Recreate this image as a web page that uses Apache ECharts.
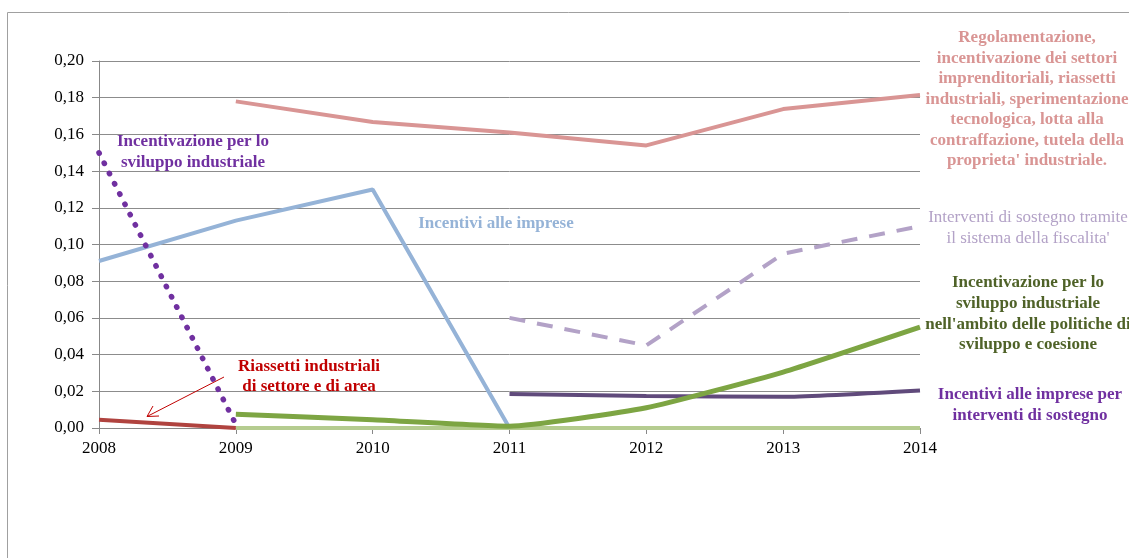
<!DOCTYPE html>
<html><head><meta charset="utf-8">
<script src="https://cdn.jsdelivr.net/npm/echarts@6/dist/echarts.min.js"></script>
<style>html,body{margin:0;padding:0;background:#fff}#c{width:1129px;height:558px}</style>
</head><body><div id="c"></div>
<script>
const years = ['2008','2009','2010','2011','2012','2013','2014'];
const regolamentazione = [null, 0.178, 0.1668, 0.161, 0.154, 0.1738, 0.1815];
const incentiviImprese = [0.091, 0.113, 0.130, 0.0, null, null, null];
const incentivazioneSviluppo = [0.150, 0.002, null, null, null, null, null];
const riassetti = [0.0045, 0.0, null, null, null, null, null];
const sviluppoCoesione = [null, 0.0075, 0.0045, 0.001, 0.011, 0.0305, 0.055];
const altraSerie = [null, 0.0, 0.0, 0.0, 0.0, 0.0, 0.0];
const fiscalita = [null, null, null, 0.060, 0.045, 0.095, 0.110];
const interventiSostegno = [null, null, null, 0.0185, 0.0175, 0.017, 0.0205];
const yTicks = {min: 0, max: 0.2, interval: 0.02};

const FF = 'Liberation Serif';
const chart = echarts.init(document.getElementById('c'));
function line(name, data, color, width, extra) {
  return {
    name, type: 'line', data, symbol: 'none', connectNulls: false,
    lineStyle: Object.assign({color, width}, (extra && extra.ls) || {}),
    smooth: (extra && extra.smooth) || false, z: (extra && extra.z) || 2
  };
}
function txt(lines, x, y, color, bold, lh) {
  return {type: 'text', x, y, style: {text: lines.join('\n'), fill: color,
    font: (bold ? 'bold ' : '') + '17px "' + FF + '"', textAlign: 'center', lineHeight: lh || 21, textVerticalAlign: 'top'}, z: 10};
}
chart.setOption({
  animation: false,
  grid: {left: 99, right: 209, top: 61, bottom: 130},
  xAxis: {type: 'category', data: years, boundaryGap: false,
    axisLine: {lineStyle: {color: '#888', width: 1}},
    axisTick: {show: true, length: 6, lineStyle: {color: '#888'}},
    axisLabel: {color: '#000', fontFamily: FF, fontSize: 17, margin: 12}},
  yAxis: {type: 'value', min: yTicks.min, max: yTicks.max, interval: yTicks.interval,
    axisLine: {show: true, lineStyle: {color: '#888', width: 1}},
    axisTick: {show: true, length: 7, lineStyle: {color: '#888'}},
    splitLine: {lineStyle: {color: '#8c8c8c', width: 1}},
    axisLabel: {color: '#000', fontFamily: FF, fontSize: 17, margin: 15,
      formatter: v => v.toFixed(2).replace('.', ',')}},
  series: [
    line('Altra', altraSerie, '#B5CC90', 4, {z: 2}),
    line('Regolamentazione', regolamentazione, '#D99594', 4, {z: 3}),
    line('Incentivi alle imprese', incentiviImprese, '#95B3D7', 4, {z: 3}),
    line('Riassetti', riassetti, '#B0433F', 4, {z: 3}),
    line('Sviluppo coesione', sviluppoCoesione, '#7DA543', 5, {z: 4, smooth: 0.15}),
    line('Fiscalita', fiscalita, '#B3A2C7', 4, {z: 3, ls: {type: [16, 12]}}),
    line('Interventi sostegno', interventiSostegno, '#604A7B', 4, {z: 3, smooth: 0.15}),
    line('Incentivazione sviluppo', incentivazioneSviluppo, '#7030A0', 5.5, {z: 5, ls: {type: [0.5, 11], cap: 'round'}})
  ],
  graphic: [
    {type: 'rect', shape: {x: 7.5, y: 12.5, width: 1300, height: 700}, style: {fill: 'none', stroke: '#a0a0a0', lineWidth: 1}, z: 0},
    txt(['Incentivazione per lo', 'sviluppo industriale'], 193, 131.5, '#7030A0', true),
    txt(['Incentivi alle imprese'], 496, 213.5, '#95B3D7', true),
    txt(['Riassetti industriali', 'di settore e di area'], 309, 357, '#C00000', true, 20),
    txt(['Regolamentazione,', 'incentivazione dei settori', 'imprenditoriali, riassetti', 'industriali, sperimentazione', 'tecnologica, lotta alla', 'contraffazione, tutela della', "proprieta' industriale."], 1027, 27.5, '#D99594', true, 20.5),
    txt(['Interventi di sostegno tramite', "il sistema della fiscalita'"], 1028, 207.5, '#B3A2C7', false, 20.5),
    txt(['Incentivazione per lo', 'sviluppo industriale', "nell'ambito delle politiche di", 'sviluppo e coesione'], 1028, 272.5, '#4F6228', true, 20.7),
    txt(['Incentivi alle imprese per', 'interventi di sostegno'], 1030, 384.5, '#7030A0', true, 21),
    {type: 'line', shape: {x1: 224, y1: 377, x2: 148, y2: 416}, style: {stroke: '#C00000', lineWidth: 1}, z: 10},
    {type: 'polyline', shape: {points: [[153, 406], [147, 416.5], [159, 416]]}, style: {stroke: '#C00000', lineWidth: 1, fill: 'none'}, z: 10}
  ]
});
</script></body></html>
